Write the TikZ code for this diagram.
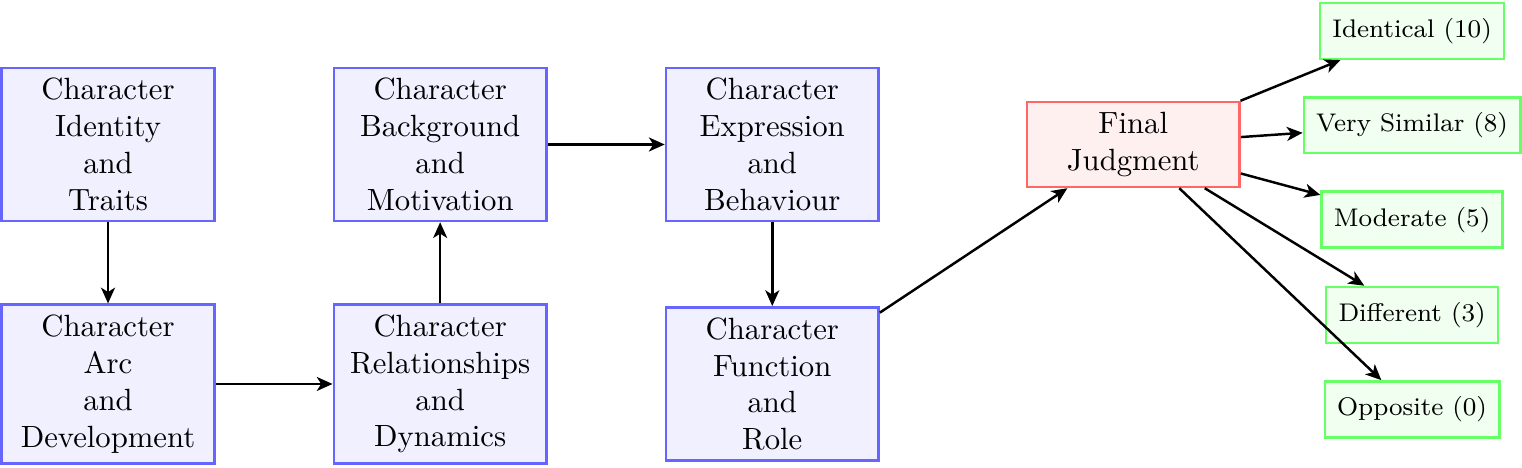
\documentclass[tikz,border=0pt]{standalone}
\usepackage{tikz}
\usetikzlibrary{arrows.meta}
\usepackage{xcolor}
\begin{document}
\begin{tikzpicture}[>={Stealth[length=1.8mm,width=1.6mm,inset=0.5mm]},
        asp/.style={rectangle,draw=blue!60,fill=blue!6,thick,
                    text width=2.2cm,align=center},
        judge/.style={rectangle,draw=red!60,fill=red!6,thick,
                      text width=2.2cm,align=center},
        score/.style={rectangle,draw=green!60,fill=green!6,thick,
                      font=\fontsize{8.3}{10}\selectfont,inner sep=4pt,
                      minimum height=0.64cm}]
        \useasboundingbox (-1.236,-3.690) rectangle (16.178,1.653);
        % character aspects
        \node[asp] (ident) at (0,0)       {Character\\Identity\\and\\Traits};
        \node[asp] (arc)   at (0,-2.74)   {Character\\Arc\\and\\Development};
        \node[asp] (rel)   at (3.80,-2.74) {Character\\Relationships\\and\\Dynamics};
        \node[asp] (back)  at (3.80,0)    {Character\\Background\\and\\Motivation};
        \node[asp] (expr)  at (7.60,0)    {Character\\Expression\\and\\Behaviour};
        \node[asp] (func)  at (7.60,-2.74) {Character\\Function\\and\\Role};
        % judgment and scores
        \node[judge] (final) at (11.73,0) {Final\\Judgment};
        \node[score] (s10) at (14.92, 1.30) {Identical (10)};
        \node[score] (s8)  at (14.92, 0.22) {Very Similar (8)};
        \node[score] (s5)  at (14.92,-0.86) {Moderate (5)};
        \node[score] (s3)  at (14.92,-1.95) {Different (3)};
        \node[score] (s0)  at (14.92,-3.03) {Opposite (0)};
        \draw[->,thick] (ident)--(arc);
        \draw[->,thick] (arc)--(rel);
        \draw[->,thick] (rel)--(back);
        \draw[->,thick] (back)--(expr);
        \draw[->,thick] (expr)--(func);
        \draw[->,thick] (func)--(final);
        \draw[->,thick] (final)--(s10);
        \draw[->,thick] (final)--(s8);
        \draw[->,thick] (final)--(s5);
        \draw[->,thick] (final)--(s3);
        \draw[->,thick] (final)--(s0);
      \end{tikzpicture}
\end{document}
